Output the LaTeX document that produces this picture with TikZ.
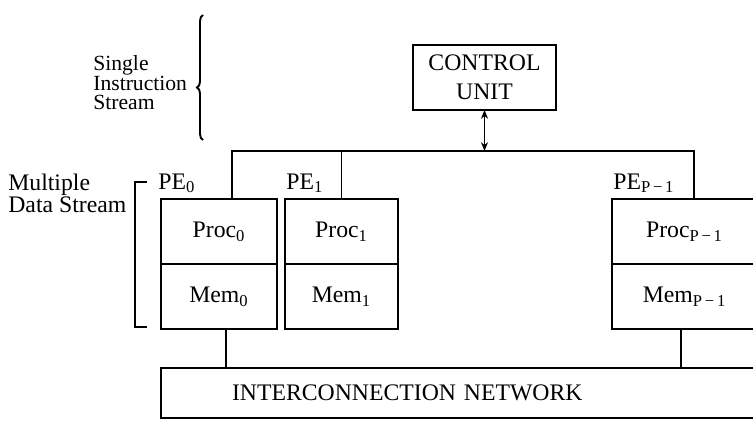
\documentclass[tikz,border=0pt]{standalone}
\usepackage{fontspec}
\setmainfont{Liberation Serif}
\usepackage{tikz}
\usetikzlibrary{arrows.meta,positioning,decorations.pathreplacing}
\tikzstyle{unit} = [rectangle, draw, line width=1.1pt, outer sep=0pt, minimum height=1.3cm, text centered]
\tikzstyle{wire} = [line width=1.1pt]
\tikzstyle{arrow} = [line width=1pt, <->, >={Stealth[length=5pt,width=4pt]}]
\tikzstyle{petext} = [anchor=base west, inner sep=0pt]
\newcommand{\bigfont}{\fontsize{13.5}{16}\selectfont}

\begin{document}
\begin{tikzpicture}[font=\bigfont]
\useasboundingbox (0,0) rectangle (15.06,8.42);
\clip (0,0) rectangle (15.06,8.42);

\node[unit, minimum width=2.86cm, align=center, font=\fontsize{13.5}{16.5}\selectfont] (cu) at (9.69,6.87) {CONTROL\\UNIT};

\node[unit, minimum width=2.32cm] (proc0) at (4.38,3.79) {Proc\textsubscript{0}};
\node[unit, minimum width=2.32cm, below=0cm of proc0] (mem0) {Mem\textsubscript{0}};
\node[unit, minimum width=2.26cm] (proc1) at (6.83,3.79) {Proc\textsubscript{1}};
\node[unit, minimum width=2.26cm, below=0cm of proc1] (mem1) {Mem\textsubscript{1}};
\node[unit, minimum width=2.9cm] (procp) at (13.69,3.79) {Proc\textsubscript{P\,−\,1}};
\node[unit, minimum width=2.9cm, below=0cm of procp] (memp) {Mem\textsubscript{P\,−\,1}};

\node[petext] (pe0) at ([xshift=-0.06cm,yshift=0.2cm]proc0.north west) {PE\textsubscript{0}};
\node[petext] (pe1) at ([xshift=0.02cm,yshift=0.2cm]proc1.north west) {PE\textsubscript{1}};
\node[petext] (pep) at ([xshift=0.02cm,yshift=0.2cm]procp.north west) {PE\textsubscript{P\,−\,1}};

% bus from the control unit to the PEs
\coordinate (busl) at (4.64,5.40);
\coordinate (busr) at (13.88,5.40);
\draw[wire] (proc0.north -| busl) -- (busl) -- (busr) -- (procp.north -| busr);
\draw[wire] (proc1.north) -- (proc1.north |- busl);
\draw[arrow] (cu.south) -- (cu.south |- busl);

\node[unit, anchor=west, minimum height=1cm, text width=12cm, inner xsep=0pt, align=left] (net) at (3.22,0.56) {\hspace*{1.42cm}INTERCONNECTION NETWORK};
\draw[wire] ([xshift=0.14cm]mem0.south) -- ([xshift=0.14cm]mem0.south |- net.north);
\draw[wire] ([xshift=-0.07cm]memp.south) -- ([xshift=-0.07cm]memp.south |- net.north);

% side notes
\node[anchor=north west, inner sep=0pt, align=left, font=\fontsize{13.5}{12.5}\selectfont] (mds) at (0.16,4.94) {Multiple\\Data Stream};
\coordinate (brtop) at (2.94,4.78);
\coordinate (brbot) at (2.94,1.88);
\draw[wire] (brtop) -- ++(-0.24,0) |- (brbot);

\node[anchor=north west, inner sep=0pt, align=left, font=\fontsize{12.3}{11.2}\selectfont] (sis) at (1.86,7.32) {Single\\Instruction\\Stream};
\coordinate (brlo) at (4.06,5.62);
\coordinate (brhi) at (4.06,8.12);
\draw[wire, decorate, decoration={brace, amplitude=0.12cm, aspect=0.42}] (brlo) -- (brhi);
\end{tikzpicture}
\end{document}
